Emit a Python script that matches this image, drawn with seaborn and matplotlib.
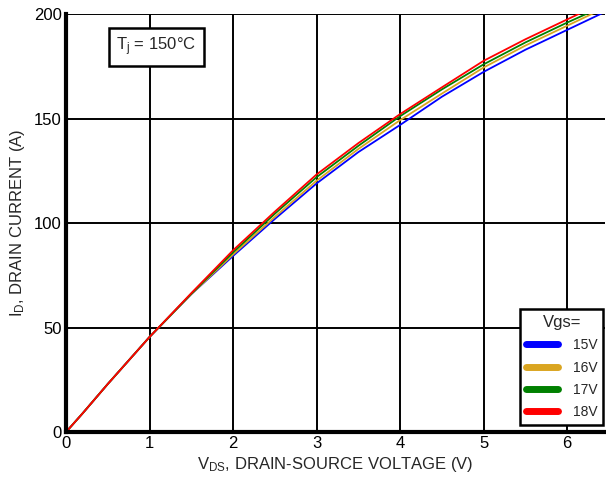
import matplotlib
matplotlib.use("Agg")
import matplotlib.pyplot as plt
import seaborn as sns
import pandas as pd
from matplotlib.lines import Line2D

vds = [0, 0.2, 0.5, 1.0, 1.5, 2.0, 2.5, 3.0, 3.5, 4.0, 4.5, 5.0, 5.5, 6.0, 6.5]
id_15v = [0, 9, 23, 45.5, 66, 84.3, 102, 119, 134, 147, 160.5, 172.4, 183, 192.5, 202]
id_16v = [0, 9, 23, 45.5, 66, 85, 103, 120.3, 135.5, 149.3, 162, 174.5, 185, 194.5, 204]
id_17v = [0, 9, 23, 45.5, 66.2, 86, 104.5, 122, 137, 151.2, 164, 176, 186.5, 196, 205]
id_18v = [0, 9, 23, 45.5, 66.5, 87, 105.5, 123.3, 138.3, 152.2, 165, 177.7, 188, 197.5, 207]
series_names = ["15V", "16V", "17V", "18V"]
colors = ["#0000ff", "#daa520", "#008000", "#ff0000"]

rows = []
for name, vals in zip(series_names, [id_15v, id_16v, id_17v, id_18v]):
    for x, y in zip(vds, vals):
        rows.append({"Vds": x, "Id": y, "Vgs": name})
df = pd.DataFrame(rows)

sns.set_style("white")
plt.rcParams["font.family"] = ["Liberation Sans", "DejaVu Sans"]
plt.rcParams["mathtext.default"] = "regular"

fig = plt.figure(figsize=(6.06, 4.83), dpi=100)
ax = fig.add_axes([0.109, 0.1056, 0.889, 0.865])

sns.lineplot(data=df, x="Vds", y="Id", hue="Vgs", palette=dict(zip(series_names, colors)),
             linewidth=1.3, ax=ax, legend=False)

ax.set_xlim(0, 6.45)
ax.set_ylim(0, 200)
ax.set_xticks([0, 1, 2, 3, 4, 5, 6])
ax.set_yticks([0, 50, 100, 150, 200])
ax.grid(True, color="black", linewidth=1.4)
ax.set_axisbelow(True)
for s in ["top", "right"]:
    ax.spines[s].set_visible(False)
for s in ["left", "bottom"]:
    ax.spines[s].set_linewidth(3)
    ax.spines[s].set_color("black")
ax.tick_params(axis="both", labelsize=12, length=0, pad=3, colors="black")
ax.set_xlabel(r"V$_{DS}$, DRAIN-SOURCE VOLTAGE (V)", fontsize=12, labelpad=3)
ax.set_ylabel(r"I$_{D}$, DRAIN CURRENT (A)", fontsize=12, labelpad=5)

ax.text(0.167, 0.922, r"T$_{j}$ = 150°C", transform=ax.transAxes, fontsize=12,
        ha="center", va="center",
        bbox=dict(boxstyle="square,pad=0.45", facecolor="white", edgecolor="black", linewidth=1.8))

handles = [Line2D([0], [0], color=c, linewidth=5, solid_capstyle="round") for c in colors]
leg = ax.legend(handles, series_names, title="Vgs=", loc="lower right",
                bbox_to_anchor=(0.997, 0.017), fontsize=10, title_fontsize=12,
                frameon=True, fancybox=False, edgecolor="black", framealpha=1,
                handlelength=2.3, handletextpad=1.1, labelspacing=0.6,
                borderpad=0.4, borderaxespad=0.0)
leg.get_frame().set_linewidth(1.8)

fig.savefig("out.png", dpi=100)
